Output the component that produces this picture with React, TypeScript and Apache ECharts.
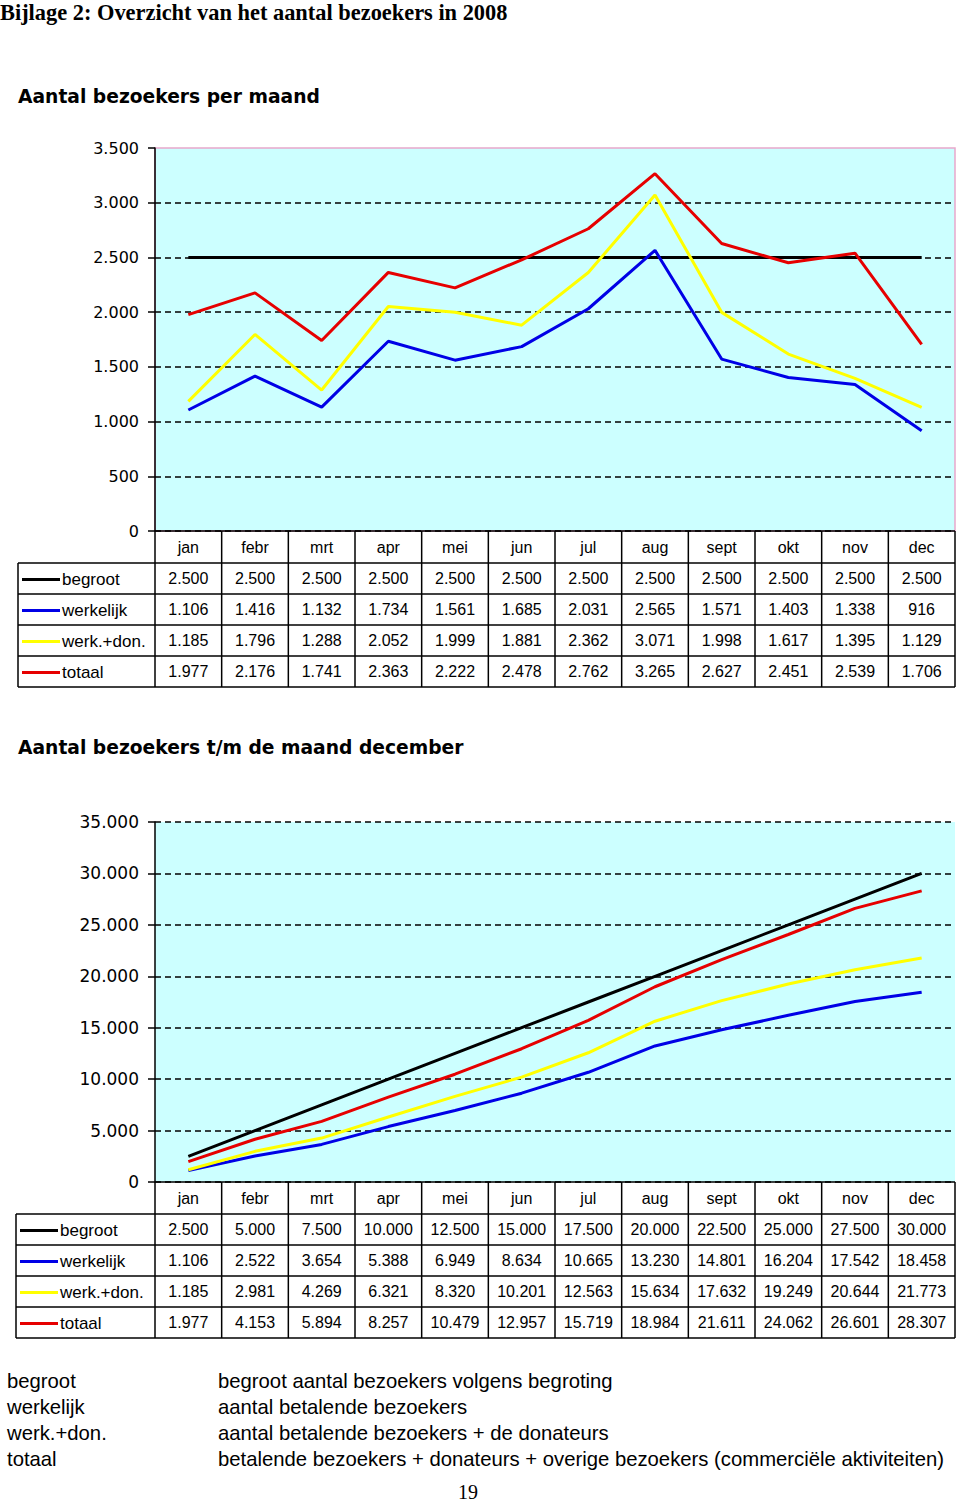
import React, { useEffect, useRef } from "react";
import * as echarts from "echarts";

// ---------- data ----------
const months = ["jan", "febr", "mrt", "apr", "mei", "jun", "jul", "aug", "sept", "okt", "nov", "dec"];
const seriesNames = ["begroot", "werkelijk", "werk.+don.", "totaal"];
const seriesColors = ["#000000", "#0000E6", "#FFFF00", "#E60000"];

const monthBegroot = [2500, 2500, 2500, 2500, 2500, 2500, 2500, 2500, 2500, 2500, 2500, 2500];
const monthWerkelijk = [1106, 1416, 1132, 1734, 1561, 1685, 2031, 2565, 1571, 1403, 1338, 916];
const monthWerkDon = [1185, 1796, 1288, 2052, 1999, 1881, 2362, 3071, 1998, 1617, 1395, 1129];
const monthTotaal = [1977, 2176, 1741, 2363, 2222, 2478, 2762, 3265, 2627, 2451, 2539, 1706];

const cumBegroot = [2500, 5000, 7500, 10000, 12500, 15000, 17500, 20000, 22500, 25000, 27500, 30000];
const cumWerkelijk = [1106, 2522, 3654, 5388, 6949, 8634, 10665, 13230, 14801, 16204, 17542, 18458];
const cumWerkDon = [1185, 2981, 4269, 6321, 8320, 10201, 12563, 15634, 17632, 19249, 20644, 21773];
const cumTotaal = [1977, 4153, 5894, 8257, 10479, 12957, 15719, 18984, 21611, 24062, 26601, 28307];

const axis1 = { min: 0, max: 3500, interval: 500 };
const axis2 = { min: 0, max: 35000, interval: 5000 };

const pageTitle = "Bijlage 2: Overzicht van het aantal bezoekers in 2008";
const chartTitle1 = "Aantal bezoekers per maand";
const chartTitle2 = "Aantal bezoekers t/m de maand december";
const legendTerms = ["begroot", "werkelijk", "werk.+don.", "totaal"];
const legendDescriptions = [
  "begroot aantal bezoekers volgens begroting",
  "aantal betalende bezoekers",
  "aantal betalende bezoekers + de donateurs",
  "betalende bezoekers + donateurs + overige bezoekers (commerciële aktiviteiten)",
];
const pageNumber = "19";

// ---------- layout ----------
const G1 = { left: 155, top: 148, width: 800, height: 383 };
const G2 = { left: 155, top: 822, width: 800, height: 360 };
const TABLE_LEFT1 = 18;
const TABLE_LEFT2 = 16;
const HEAD_H = 32;
const ROW_H = 31;

const SANS = '"Liberation Sans", Arial, sans-serif';
const SERIF = '"Liberation Serif", "Times New Roman", serif';
const TAHOMA = '"DejaVu Sans", Tahoma, sans-serif';

const fmtNL = (v: number) => String(Math.round(v)).replace(/\B(?=(\d{3})+(?!\d))/g, ".");

const txt = (x: number, y: number, text: string, font: string, align = "left") => ({
  type: "text",
  x,
  y,
  silent: true,
  style: {
    text,
    font,
    fill: "#000",
    align,
    textAlign: align,
    verticalAlign: "middle",
    textVerticalAlign: "middle",
  },
});

const ln = (x1: number, y1: number, x2: number, y2: number, stroke = "#000", lineWidth = 1.5) => ({
  type: "line",
  silent: true,
  shape: { x1, y1, x2, y2 },
  style: { stroke, lineWidth },
});

function buildTable(g: typeof G1, tableLeft: number, rows: number[][]) {
  const els: any[] = [];
  const top = g.top + g.height;
  const colW = g.width / months.length;
  const right = g.left + g.width;
  const yRow = (i: number) => top + HEAD_H + i * ROW_H;
  const bottom = yRow(rows.length);
  els.push(ln(g.left, top, right, top));
  for (let i = 0; i <= rows.length; i++) els.push(ln(tableLeft, yRow(i), right, yRow(i)));
  for (let c = 0; c <= months.length; c++) {
    const x = g.left + c * colW;
    els.push(ln(x, top, x, bottom));
  }
  els.push(ln(tableLeft, yRow(0), tableLeft, bottom));
  months.forEach((m, c) => {
    els.push(txt(g.left + (c + 0.5) * colW, top + HEAD_H / 2, m, `16px ${SANS}`, "center"));
  });
  rows.forEach((vals, r) => {
    const cy = yRow(r) + ROW_H / 2;
    els.push(ln(tableLeft + 4, cy + 1, tableLeft + 42, cy + 1, seriesColors[r], 3));
    els.push(txt(tableLeft + 44, cy + 1, seriesNames[r], `17px ${SANS}`, "left"));
    vals.forEach((v, c) => {
      els.push(txt(g.left + (c + 0.5) * colW, cy, fmtNL(v), `16px ${SANS}`, "center"));
    });
  });
  return els;
}

function yAxisCfg(gridIndex: number, ax: typeof axis1, fontSize: number, showMaxLine: boolean) {
  return {
    type: "value",
    gridIndex,
    min: ax.min,
    max: ax.max,
    interval: ax.interval,
    axisLine: { show: true, lineStyle: { color: "#000", width: 1.5 } },
    axisTick: { show: true, length: 7, inside: false, lineStyle: { color: "#000", width: 1.5 } },
    axisLabel: {
      formatter: (v: number) => fmtNL(v),
      fontSize,
      fontFamily: TAHOMA,
      color: "#000",
      margin: 16,
    },
    splitLine: {
      show: true,
      showMaxLine,
      lineStyle: { type: [6, 4], color: "#000", width: 1.5 },
    },
  };
}

function xAxisCfg(gridIndex: number) {
  return {
    type: "category",
    gridIndex,
    data: months,
    boundaryGap: true,
    axisLine: { show: false },
    axisTick: { show: false },
    axisLabel: { show: false },
    splitLine: { show: false },
  };
}

function lineSeries(name: string, data: number[], idx: number, color: string) {
  return {
    type: "line",
    name,
    data,
    xAxisIndex: idx,
    yAxisIndex: idx,
    symbol: "none",
    silent: true,
    lineStyle: { color, width: 3 },
    itemStyle: { color },
  };
}

export default function App() {
  const ref = useRef<HTMLDivElement>(null);
  useEffect(() => {
    if (!ref.current) return;
    const chart = echarts.init(ref.current, undefined, { renderer: "svg" });
    const monthRows = [monthBegroot, monthWerkelijk, monthWerkDon, monthTotaal];
    const cumRows = [cumBegroot, cumWerkelijk, cumWerkDon, cumTotaal];

    const graphic: any[] = [
      txt(0, 12, pageTitle, `bold 22.4px ${SERIF}`, "left"),
      txt(18, 96, chartTitle1, `bold 18.7px ${TAHOMA}`, "left"),
      txt(18, 747, chartTitle2, `bold 18.7px ${TAHOMA}`, "left"),
      ...buildTable(G1, TABLE_LEFT1, monthRows),
      ...buildTable(G2, TABLE_LEFT2, cumRows),
    ];
    legendTerms.forEach((t, i) => {
      graphic.push(txt(7, 1381 + i * 26, t, `20.3px ${SANS}`, "left"));
      graphic.push(txt(218, 1381 + i * 26, legendDescriptions[i], `20.3px ${SANS}`, "left"));
    });
    graphic.push(txt(468, 1492, pageNumber, `20px ${SERIF}`, "center"));

    chart.setOption({
      animation: false,
      backgroundColor: "#ffffff",
      grid: [
        { ...G1, show: true, backgroundColor: "#CCFFFF", borderColor: "#E8A8CC", borderWidth: 1.5 },
        { ...G2, show: true, backgroundColor: "#CCFFFF", borderWidth: 0 },
      ],
      xAxis: [xAxisCfg(0), xAxisCfg(1)],
      yAxis: [yAxisCfg(0, axis1, 16, false), yAxisCfg(1, axis2, 17, true)],
      series: [
        ...monthRows.map((d, i) => lineSeries(seriesNames[i], d, 0, seriesColors[i])),
        ...cumRows.map((d, i) => lineSeries(seriesNames[i], d, 1, seriesColors[i])),
      ],
      graphic,
    });
    return () => chart.dispose();
  }, []);
  return (
    <div
      ref={ref}
      style={{ position: "absolute", left: 0, top: 0, width: 960, height: 1502, background: "#fff" }}
    />
  );
}
